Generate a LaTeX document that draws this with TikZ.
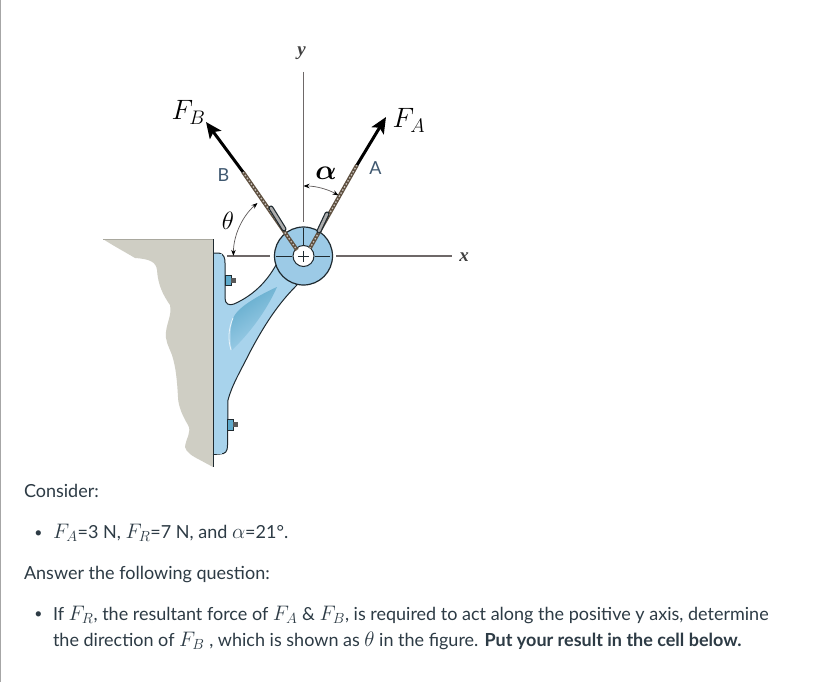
\documentclass[tikz,border=0pt]{standalone}
\usepackage{fix-cm}
\usepackage{fontspec}
\setmainfont{Lato}
\newfontfamily\axfont{Liberation Serif}
\usetikzlibrary{arrows.meta,calc}
\definecolor{txt}{HTML}{2D3B45}
\definecolor{wallc}{HTML}{CFCEC4}
\definecolor{walltop}{HTML}{A9A89E}
\definecolor{blueL}{HTML}{A8D3EC}
\definecolor{blueH}{HTML}{9CCAE6}
\definecolor{blueD}{HTML}{5FAACB}
\definecolor{edgec}{HTML}{1F2A30}
\definecolor{axisc}{HTML}{6E6868}
\definecolor{labc}{HTML}{3F5870}
\definecolor{cablec}{HTML}{5F5040}
\newcommand{\mm}[1]{{\fontsize{21}{20}\selectfont$#1$}}
\tikzset{
  body/.style={anchor=base west,inner sep=0pt,outer sep=0pt,text=txt,font=\fontsize{18}{20}\selectfont},
  bulletmark/.style={anchor=center,inner sep=0pt,text=txt,font=\fontsize{14}{14}\selectfont},
  axisline/.style={draw=axisc,line width=1.1pt},
  angarc/.style={draw=axisc!85!black,line width=0.7pt,{Stealth[length=6pt,width=4.5pt,color=black]}-{Stealth[length=6pt,width=4.5pt,color=black]}},
  force/.style={draw=black,line width=3pt,-{Stealth[length=16pt,width=14pt,inset=3.5pt]}},
  cablebase/.style={draw=cablec,line width=3.8pt},
  cabletwist/.style={draw=white!65!cablec,line width=1.3pt,dash pattern=on 1.5pt off 2pt},
  buckle/.style={draw=edgec,line width=5pt,line cap=round},
  bucklein/.style={draw=gray!65,line width=2.6pt,line cap=round},
  mlabel/.style={inner sep=0pt,text=black,font=\fontsize{28}{30}\selectfont},
  axlabel/.style={inner sep=0pt,text=black!75,font=\axfont\bfseries\itshape\fontsize{19}{20}\selectfont},
  letlabel/.style={inner sep=0pt,text=labc,font=\fontsize{18}{20}\selectfont},
  bolt/.style={fill=blueD,draw=edgec,line width=0.6pt},
}
\begin{document}
\begin{tikzpicture}[x=1pt,y=-1pt]
\useasboundingbox (0,0) rectangle (817,682);
\fill[white] (0,0) rectangle (817,682);
\draw[gray!70,line width=1.4pt] (0.7,0) -- (0.7,682);

% key points
\coordinate (hub) at (303.5,256);
\coordinate (tipB) at (206,122);
\coordinate (rodB) at (243,172);
\coordinate (endB) at (297,250);
\coordinate (tipA) at (386,117);
\coordinate (rodA) at (357,165);
\coordinate (endA) at (310,248);
\coordinate (yTop) at (303.5,72);
\coordinate (yBot) at (303.5,222);
\coordinate (xLeftA) at (227,256);
\coordinate (xLeftB) at (270,256);
\coordinate (xRightA) at (336,256);
\coordinate (xRightB) at (452,256);

% wall
\fill[wallc] (103,239) -- (213,239) -- (213,467) -- (200,460)
  .. controls (192,456) and (186,452) .. (185,447)
  .. controls (186,438) and (192,432) .. (188,425)
  .. controls (180,412) and (178,402) .. (178,397)
  .. controls (177,380) and (176,368) .. (172,355)
  .. controls (168,345) and (165,340) .. (166,332)
  .. controls (167,322) and (172,315) .. (170,305)
  .. controls (163,295) and (158,285) .. (157,270)
  .. controls (156,262) and (150,259) .. (135,258)
  .. controls (125,252) and (112,245) .. (103,239) -- cycle;
\draw[walltop,line width=1pt] (103,239.5) -- (213,239.5);

% bracket
\draw[fill=blueL,draw=edgec,line width=1pt,line join=round]
  (213,253) -- (219,253) .. controls (224,254) and (225,258) .. (225,263)
  -- (225,298) .. controls (225,304) and (229,306) .. (234,304)
  .. controls (252,296) and (266,283) .. (276,265)
  -- (297,285)
  .. controls (282,300) and (268,318) .. (250,352)
  .. controls (240,372) and (232,385) .. (228,400)
  -- (227.5,445) .. controls (227.5,452) and (225,454) .. (220,454) -- (213,454.5);
\fill[blueL] (213,254) rectangle (222,454);
\draw[edgec,line width=0.8pt] (213,239) -- (213,467);
\shade[top color=blueD,bottom color=blueL,shading angle=35]
  (277,287) .. controls (268,291) and (250,300) .. (240,309) .. controls (235,314) and (233,317) .. (232,322)
  .. controls (230,332) and (230,342) .. (232,350)
  .. controls (248,335) and (266,312) .. (277,287) -- cycle;
\draw[white!75!blueL,line width=0.8pt] (233,318) .. controls (228,330) and (228,340) .. (231,350);

% bolts
\fill[bolt] (225.5,275) rectangle (231,285);
\fill[gray!70!black] (231,277.5) rectangle (235.5,282.5);
\fill[bolt] (227.5,419) rectangle (233,430);
\fill[gray!70!black] (233,422) rectangle (238,427);

% axes
\draw[axisline] (yTop) -- (yBot);
\draw[axisline] (xLeftA) -- (xLeftB);
\draw[axisline] (xRightA) -- (xRightB);

% hub
\draw[fill=blueH,draw=edgec,line width=1.2pt] (hub) circle[radius=29];
\draw[edgec,line width=1pt] (303.5,228) -- (303.5,246);
\draw[edgec,line width=1pt] (276,256) -- (292,256);
\draw[edgec,line width=1pt] (315,256) -- (330,256);
\draw[fill=white,draw=edgec,line width=1pt] (hub) circle[radius=10.5];
\draw[edgec,line width=1pt] (298,256) -- (309,256) (303.5,250.5) -- (303.5,261.5);

% cables
\draw[cablebase] (rodB) -- (endB);
\draw[cabletwist] (rodB) -- (endB);
\draw[cablebase] (rodA) -- (endA);
\draw[cabletwist] (rodA) -- (endA);
\draw[buckle] (271,208) -- (284,229);
\draw[bucklein] (271,208) -- (284,229);
\draw[buckle] (327,214) -- (319,231);
\draw[bucklein] (327,214) -- (319,231);

% forces
\draw[force] (rodB) -- (tipB);
\draw[force] (rodA) -- (tipA);

% angle arcs
\draw[angarc] (257.5,203) arc[start angle=229,end angle=180,radius=70];
\draw[angarc] (303.5,186) arc[start angle=-90,end angle=-60,radius=70];

% labels
\node[mlabel] (lFB) at (188.5,112.5) {$F_{B}$};
\node[mlabel] (lFA) at (409,120.5) {$F_{A}$};
\node[mlabel,font=\boldmath\fontsize{28}{30}\selectfont] (lAl) at (326,173.5) {$\alpha$};
\node[mlabel,font=\fontsize{25}{26}\selectfont] (lTh) at (228,221) {$\theta$};
\node[letlabel] (lB) at (223.5,175) {B};
\node[letlabel] (lA) at (375.5,168.5) {A};
\node[axlabel] (ly) at (301.5,53) {y};
\node[axlabel] (lx) at (464,257) {x};

% text
\node[body] (t1) at (24,497) {Consider:};
\node[bulletmark] (bul1) at (38.5,534) {•};
\node[body] (t2) at (53,538) {\mm{F_A}=3 N, \mm{F_R}=7 N, and \mm{\alpha}=21°.};
\node[body] (t3) at (24,579) {Answer the following question:};
\node[bulletmark] (bul2) at (38.5,615.5) {•};
\node[body] (t4) at (53,620) {If \mm{F_R}, the resultant force of \mm{F_A} \& \mm{F_B}, is required to act along the positive y axis, determine};
\node[body] (t5) at (53,646) {the direction of \mm{F_B} , which is shown as \mm{\theta} in the figure. \textbf{Put your result in the cell below.}};
\end{tikzpicture}
\end{document}
